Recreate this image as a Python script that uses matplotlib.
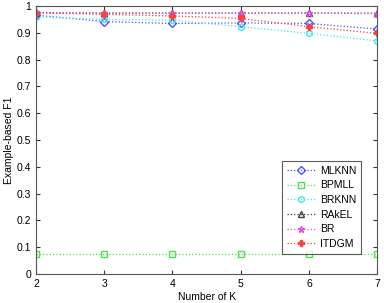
import matplotlib.pyplot as plt
import numpy as np

plt.rcParams['font.family'] = ['Liberation Sans', 'DejaVu Sans']

k = [2, 3, 4, 5, 6, 7]
mlknn = [0.966, 0.942, 0.935, 0.937, 0.935, 0.914]
bpmll = [0.075, 0.075, 0.075, 0.075, 0.075, 0.075]
brknn = [0.960, 0.950, 0.947, 0.923, 0.898, 0.870]
rakel = [0.975, 0.974, 0.974, 0.974, 0.974, 0.973]
br = [0.976, 0.974, 0.973, 0.973, 0.973, 0.972]
itdgm = [0.975, 0.969, 0.963, 0.954, 0.923, 0.898]

fig = plt.figure(figsize=(3.84, 3.03), dpi=100)
ax = fig.add_axes([0.094, 0.096, 0.888, 0.884])

ms = 4.5
lw = 0.9
ax.plot(k, mlknn, ls=':', color='#5050ff', marker='D', mfc='none', ms=ms, lw=lw, label='MLKNN')
ax.plot(k, bpmll, ls=':', color='#50e050', marker='s', mfc='none', ms=ms, lw=lw, label='BPMLL')
ax.plot(k, brknn, ls=':', color='#40e8e8', marker='h', mfc='none', ms=ms, lw=lw, label='BRKNN')
ax.plot(k, rakel, ls=':', color='#404040', marker='^', mfc='none', ms=ms, lw=lw, label='RAkEL')
ax.plot(k, br, ls=':', color='#e050e0', marker='*', mfc='none', ms=ms, lw=lw, label='BR')
ax.plot(k, itdgm, ls=':', color='#ff4040', marker='P', ms=ms, lw=lw, label='ITDGM')

ax.set_xlim(2, 7)
ax.set_ylim(0, 1)
ax.set_xticks(k)
ax.set_yticks(np.arange(0, 1.01, 0.1))
ax.set_yticklabels(['0', '0.1', '0.2', '0.3', '0.4', '0.5', '0.6', '0.7', '0.8', '0.9', '1'])
ax.tick_params(direction='in', top=True, right=True, labelsize=7.5, length=3, color='#333333')
for s in ax.spines.values():
    s.set_color('#555555')
ax.set_xlabel('Number of K', fontsize=7.5, labelpad=2)
ax.set_ylabel('Example-based F1', fontsize=7.5, labelpad=2)

leg = ax.legend(loc='lower right', bbox_to_anchor=(0.953, 0.075), borderaxespad=0,
                fontsize=7.5, fancybox=False, edgecolor='#333333', handlelength=2.7,
                labelspacing=0.45, borderpad=0.45, handletextpad=0.5)
leg.get_frame().set_linewidth(0.8)

plt.savefig('out.png', dpi=100)
